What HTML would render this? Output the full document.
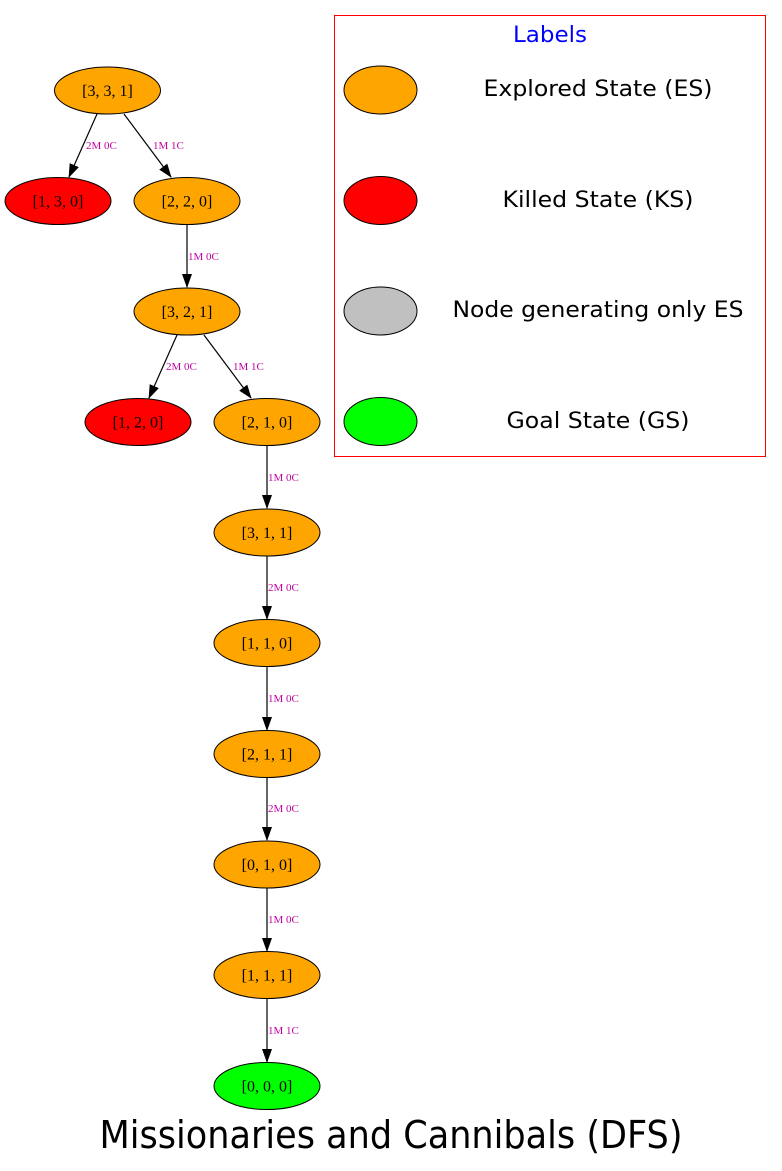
<!DOCTYPE html>
<html><head><meta charset="utf-8"><style>html,body{margin:0;padding:0;background:#fff}svg{display:block}</style></head>
<body>
<svg width="782" height="1171" viewBox="0 0 782 1171" xmlns="http://www.w3.org/2000/svg">
<defs><marker id="a" markerWidth="14" markerHeight="12" refX="13" refY="6" orient="auto" markerUnits="userSpaceOnUse"><path d="M0,1 L14,6 L0,11 z" fill="#000"/></marker></defs>
<g stroke="#000" stroke-width="1.2" marker-end="url(#a)">
<line x1="97" y1="114" x2="69" y2="177"/>
<line x1="124" y1="114" x2="171" y2="177"/>
<line x1="187" y1="224" x2="187" y2="287"/>
<line x1="177" y1="335" x2="149" y2="398"/>
<line x1="204" y1="335" x2="251" y2="398"/>
<line x1="267" y1="446" x2="267" y2="508"/>
<line x1="267" y1="556" x2="267" y2="619"/>
<line x1="267" y1="667" x2="267" y2="730"/>
<line x1="267" y1="778" x2="267" y2="840"/>
<line x1="267" y1="888" x2="267" y2="951"/>
<line x1="267" y1="999" x2="267" y2="1062"/>
</g>
<g font-family="Liberation Serif, serif" font-size="11" fill="#c000a0" xml:space="preserve">
<text x="86" y="149">2M  0C</text><text x="153" y="149">1M  1C</text>
<text x="188" y="260">1M  0C</text>
<text x="166" y="370">2M  0C</text><text x="233" y="370">1M  1C</text>
<text x="268" y="481">1M  0C</text><text x="268" y="591">2M  0C</text>
<text x="268" y="702">1M  0C</text><text x="268" y="812">2M  0C</text>
<text x="268" y="923">1M  0C</text><text x="268" y="1034">1M  1C</text>
</g>
<g stroke="#000" stroke-width="1">
<ellipse cx="107.5" cy="90.5" rx="53" ry="23.5" fill="#ffa500"/>
<ellipse cx="58" cy="201" rx="53" ry="23.5" fill="#ff0000"/>
<ellipse cx="187" cy="201" rx="53" ry="23.5" fill="#ffa500"/>
<ellipse cx="187" cy="311.5" rx="53" ry="23.5" fill="#ffa500"/>
<ellipse cx="138" cy="422" rx="53" ry="23.5" fill="#ff0000"/>
<ellipse cx="267" cy="422" rx="53" ry="23.5" fill="#ffa500"/>
<ellipse cx="267" cy="532.5" rx="53" ry="23.5" fill="#ffa500"/>
<ellipse cx="267" cy="643" rx="53" ry="23.5" fill="#ffa500"/>
<ellipse cx="267" cy="754" rx="53" ry="23.5" fill="#ffa500"/>
<ellipse cx="267" cy="864.5" rx="53" ry="23.5" fill="#ffa500"/>
<ellipse cx="267" cy="975" rx="53" ry="23.5" fill="#ffa500"/>
<ellipse cx="267" cy="1086" rx="53" ry="23.5" fill="#00ff00"/>
</g>
<g font-family="Liberation Serif, serif" font-size="16" text-anchor="middle" fill="#000">
<text x="107.5" y="96">[3, 3, 1]</text>
<text x="58" y="206.5">[1, 3, 0]</text>
<text x="187" y="206.5">[2, 2, 0]</text>
<text x="187" y="317">[3, 2, 1]</text>
<text x="138" y="427.5">[1, 2, 0]</text>
<text x="267" y="427.5">[2, 1, 0]</text>
<text x="267" y="538">[3, 1, 1]</text>
<text x="267" y="648.5">[1, 1, 0]</text>
<text x="267" y="759.5">[2, 1, 1]</text>
<text x="267" y="870">[0, 1, 0]</text>
<text x="267" y="980.5">[1, 1, 1]</text>
<text x="267" y="1091.5">[0, 0, 0]</text>
</g>
<rect x="334.5" y="15.5" width="431" height="441" fill="none" stroke="#ff0000" stroke-width="1"/>
<g stroke="#000" stroke-width="1">
<ellipse cx="380.5" cy="90" rx="36.5" ry="24" fill="#ffa500"/>
<ellipse cx="380.5" cy="200.5" rx="36.5" ry="24" fill="#ff0000"/>
<ellipse cx="380.5" cy="311" rx="36.5" ry="24" fill="#c0c0c0"/>
<ellipse cx="380.5" cy="421.5" rx="36.5" ry="24" fill="#00ff00"/>
</g>
<g font-family="DejaVu Sans, sans-serif" font-size="22" text-anchor="middle">
<text x="550" y="42" fill="#0000ff" textLength="74" lengthAdjust="spacingAndGlyphs">Labels</text>
<text x="598" y="96" textLength="229" lengthAdjust="spacingAndGlyphs">Explored State (ES)</text>
<text x="598" y="207" textLength="191" lengthAdjust="spacingAndGlyphs">Killed State (KS)</text>
<text x="598" y="317" textLength="291" lengthAdjust="spacingAndGlyphs">Node generating only ES</text>
<text x="598" y="428" textLength="183" lengthAdjust="spacingAndGlyphs">Goal State (GS)</text>
</g>
<text x="391" y="1148" font-family="DejaVu Sans, sans-serif" font-size="38" text-anchor="middle" textLength="583" lengthAdjust="spacingAndGlyphs">Missionaries and Cannibals (DFS)</text>
</svg>
</body></html>
